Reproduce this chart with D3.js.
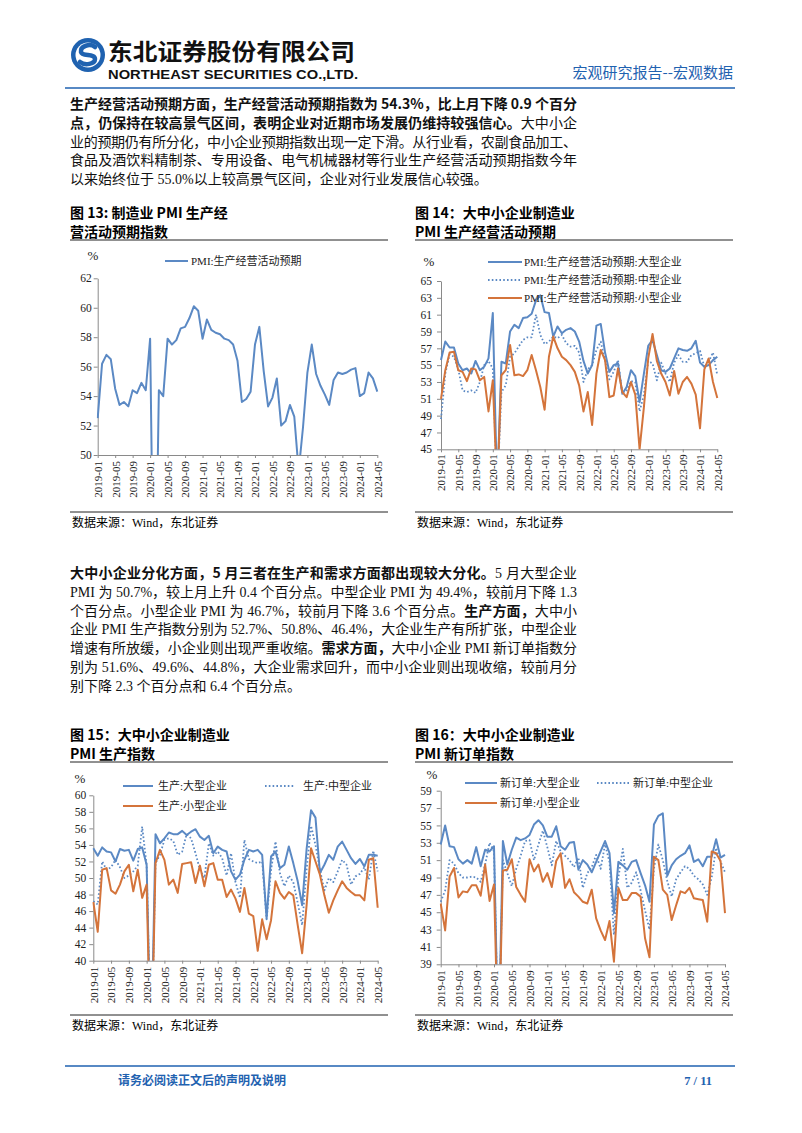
<!DOCTYPE html>
<html><head><meta charset="utf-8">
<script src="https://cdn.jsdelivr.net/npm/d3@7"></script>
<style>body{margin:0;background:#fff}svg{display:block}</style>
</head><body>
<svg id="page" width="802" height="1133"></svg>
<script>
// ---------- DATA ----------
const monthLabels = d3.timeMonth.range(new Date(2019,0,1), new Date(2024,5,1)).map(d3.timeFormat("%Y-%m"));
const tickLabels = ["2019-01","2019-05","2019-09","2020-01","2020-05","2020-09","2021-01","2021-05","2021-09","2022-01","2022-05","2022-09","2023-01","2023-05","2023-09","2024-01","2024-05"];

// Fig 13: PMI 生产经营活动预期
const expectTotal = [52.5,56.2,56.8,56.5,54.5,53.4,53.6,53.3,54.4,54.2,54.9,54.4,
  57.9,35.0,54.4,54.0,57.9,57.5,57.8,58.6,58.7,59.3,60.1,59.8,
  57.9,59.2,58.5,58.3,58.2,57.9,57.8,57.5,56.4,53.6,53.8,54.3,
  57.5,58.7,55.7,53.3,53.9,55.2,52.0,52.3,53.4,52.6,48.9,51.9,
  55.6,57.5,55.5,54.7,54.1,53.4,55.1,55.6,55.5,55.6,55.8,55.9,
  54.0,54.2,55.6,55.2,54.3];

// Fig 14: 生产经营活动预期 by size
const expectLarge = [55.6,57.8,57.1,57.1,55.2,54.4,54.6,54.0,55.5,54.4,54.8,55.8,
  61.2,40.0,55.4,55.2,59.0,59.8,59.4,60.6,60.7,61.1,62.7,63.3,
  61.3,61.2,58.4,59.6,58.8,59.2,59.4,59.0,57.8,55.5,54.0,55.0,
  59.7,59.9,56.5,54.2,55.0,55.2,51.6,52.4,54.4,53.7,50.6,54.0,
  57.3,58.0,56.2,54.4,54.2,54.6,55.8,57.0,56.8,56.7,57.0,57.9,
  55.3,54.8,55.0,55.6,56.0];
const expectMedium = [48.6,54.0,56.3,56.0,54.5,52.0,51.8,52.0,51.7,53.0,55.0,55.5,
  54.6,40.0,51.8,52.6,56.0,56.4,57.2,58.0,58.3,58.3,61.0,58.6,
  57.5,57.8,58.4,58.2,58.6,57.6,57.2,57.3,56.5,53.0,54.5,55.0,
  56.8,57.8,55.5,53.3,54.2,55.6,51.6,52.0,53.1,53.0,49.5,51.5,
  55.5,55.2,53.2,55.3,54.0,53.0,55.3,56.2,55.4,55.4,56.2,56.4,
  56.7,54.8,55.4,56.5,53.8];
const expectSmall = [51.0,54.4,56.5,56.6,54.4,54.2,53.1,54.6,54.5,53.2,53.6,49.5,
  53.2,40.0,53.8,54.4,57.4,53.8,53.9,53.7,54.4,56.2,54.4,52.4,
  49.7,56.0,58.4,57.0,56.0,55.6,55.0,54.2,52.6,49.5,51.8,47.9,
  54.0,56.8,55.6,51.2,51.4,54.6,51.8,51.2,53.0,51.5,45.0,50.0,
  55.8,58.7,55.5,54.0,53.0,51.4,54.3,51.6,53.0,53.6,52.8,51.5,
  47.5,54.5,55.8,53.0,51.1];

// Fig 15: 生产 by size
const prodLarge = [53.6,52.7,53.7,53.2,53.1,52.0,53.5,53.3,53.4,52.1,53.5,53.7,
  51.6,28.0,55.3,54.2,54.8,55.5,55.3,55.3,55.7,55.2,55.6,55.9,
  55.0,54.6,55.1,53.0,53.8,53.4,53.2,50.8,49.8,50.4,52.2,53.4,
  53.2,53.4,52.8,45.1,52.6,53.2,51.2,51.6,53.8,51.8,49.6,46.7,
  53.5,58.2,57.3,50.6,51.6,52.8,52.2,53.8,54.4,53.4,52.4,51.7,
  52.3,51.4,52.8,52.8,52.7];
const prodMedium = [47.2,46.8,52.0,51.0,51.3,52.2,51.3,50.0,50.3,50.8,51.5,56.2,
  51.6,28.0,51.8,52.8,54.6,54.8,54.5,52.8,53.2,55.3,54.8,53.0,
  51.0,50.0,54.2,52.7,53.2,52.4,50.3,53.0,49.5,47.6,54.6,52.3,
  52.0,51.8,52.0,45.0,51.0,54.4,50.6,49.0,50.3,49.5,47.0,44.3,
  51.0,56.3,54.0,51.0,48.5,50.0,49.5,50.8,52.2,51.6,49.2,50.2,
  50.5,51.3,49.8,53.3,50.8];
const prodSmall = [47.1,43.5,51.0,51.2,48.5,48.1,49.2,50.8,51.6,48.4,51.0,47.6,
  49.2,26.0,51.8,53.4,52.2,49.2,49.8,48.2,51.7,51.8,51.9,49.4,
  51.5,49.0,51.6,51.8,49.8,49.8,47.7,48.6,47.5,45.9,48.8,45.7,
  45.4,41.2,45.0,42.6,44.9,49.6,48.2,47.5,48.3,47.9,44.3,40.9,
  46.7,53.6,52.0,50.4,47.9,45.8,47.3,48.5,49.6,48.8,48.3,47.9,
  47.9,47.3,52.2,52.4,46.4];

// Fig 16: 新订单 by size
const orderLarge = [52.8,55.0,52.6,52.5,51.1,50.6,51.0,50.6,52.5,50.3,52.2,52.0,
  52.6,29.0,53.2,50.5,52.2,53.6,53.3,53.5,53.9,55.1,55.6,55.0,
  53.7,53.7,54.9,52.6,52.2,53.0,53.1,49.9,51.0,50.5,49.6,50.8,
  52.0,53.2,51.8,44.9,50.8,50.4,49.9,50.8,51.0,49.5,48.1,46.2,
  55.1,56.1,56.4,49.2,50.4,51.1,51.5,51.8,52.7,50.8,51.1,50.3,
  51.4,51.4,53.4,51.3,51.6];
const orderMedium = [46.2,47.5,51.0,50.6,49.5,49.0,49.0,49.1,49.0,48.5,50.5,53.0,
  52.0,29.0,51.0,49.5,48.0,50.0,51.5,53.2,53.3,51.0,52.8,54.4,
  52.5,50.4,53.2,52.0,51.5,51.0,50.2,51.3,47.8,49.5,50.2,51.6,
  50.0,52.8,50.8,42.4,49.0,52.3,47.8,48.4,49.6,47.5,45.2,43.0,
  50.0,52.8,51.0,48.6,46.8,48.8,49.6,50.3,50.0,49.2,48.8,48.2,
  47.0,49.0,52.4,50.8,49.6];
const orderSmall = [46.0,42.9,49.1,50.1,46.7,47.4,47.3,48.1,48.1,46.9,50.5,46.3,
  48.2,28.0,49.8,49.9,51.1,47.9,47.0,46.2,51.1,49.7,50.5,48.5,
  49.5,47.9,50.9,51.8,47.8,48.8,47.3,46.8,46.2,46.0,47.6,44.3,
  42.9,41.8,44.0,39.3,47.8,46.4,46.4,47.2,47.2,46.8,42.0,39.8,
  51.4,51.0,47.6,47.0,44.1,45.8,47.4,47.2,47.8,46.6,46.5,46.4,
  43.9,52.0,51.8,50.9,44.9];

// ---------- STYLE ----------
const svg = d3.select("#page");
const SERIF = "'Liberation Serif','Noto Sans CJK SC',serif";
const CJK = "'Noto Sans CJK SC','Liberation Sans',sans-serif";
const BLUE = "#5b89c4", ORANGE = "#d4743b", HEADBLUE = "#1f62b0";
const defs = svg.append("defs");

// ---------- HEADER ----------
const logo = svg.append("g").attr("transform","translate(88,55)");
logo.append("circle").attr("r",17).attr("fill",HEADBLUE);
logo.append("circle").attr("r",12.5).attr("fill","#fff");
logo.append("path").attr("d","M7,-8 C2,-12 -8,-9 -7,-3 C-6,2 7,-2 7,4 C7,9 -3,11 -8,7")
  .attr("fill","none").attr("stroke",HEADBLUE).attr("stroke-width",4.5).attr("stroke-linecap","round");
svg.append("text").attr("x",108).attr("y",60).attr("font-family",CJK).attr("font-weight","bold")
  .attr("font-size",23).attr("textLength",247).attr("lengthAdjust","spacingAndGlyphs").attr("fill","#111").text("东北证券股份有限公司");
svg.append("text").attr("x",108).attr("y",78.5).attr("font-family","'Liberation Sans',sans-serif").attr("font-weight","bold")
  .attr("font-size",12).attr("textLength",250).attr("lengthAdjust","spacingAndGlyphs").attr("fill","#111").text("NORTHEAST SECURITIES CO.,LTD.");
svg.append("text").attr("x",733).attr("y",78).attr("text-anchor","end").attr("font-family",CJK)
  .attr("font-size",15).attr("fill",HEADBLUE).text("宏观研究报告--宏观数据");
svg.append("line").attr("x1",65).attr("x2",735).attr("y1",88).attr("y2",88).attr("stroke",HEADBLUE).attr("stroke-width",1.5);

// ---------- PARAGRAPHS ----------
const para1 = [
  {j:true, parts:[["生产经营活动预期方面，生产经营活动预期指数为 54.3%，比上月下降 0.9 个百分",1]]},
  {j:true, parts:[["点，仍保持在较高景气区间，表明企业对近期市场发展仍维持较强信心。",1],["大中小企",0]]},
  {j:true, parts:[["业的预期仍有所分化，中小企业预期指数出现一定下滑。从行业看，农副食品加工、",0]]},
  {j:true, parts:[["食品及酒饮料精制茶、专用设备、电气机械器材等行业生产经营活动预期指数今年",0]]},
  {j:false, parts:[["以来始终位于 55.0%以上较高景气区间，企业对行业发展信心较强。",0]]}
];
const para2 = [
  {j:true, parts:[["大中小企业分化方面，5 月三者在生产和需求方面都出现较大分化。",1],["5 月大型企业",0]]},
  {j:true, parts:[["PMI 为 50.7%，较上月上升 0.4 个百分点。中型企业 PMI 为 49.4%，较前月下降 1.3",0]]},
  {j:true, parts:[["个百分点。小型企业 PMI 为 46.7%，较前月下降 3.6 个百分点。",0],["生产方面，",1],["大中小",0]]},
  {j:true, parts:[["企业 PMI 生产指数分别为 52.7%、50.8%、46.4%，大企业生产有所扩张，中型企业",0]]},
  {j:true, parts:[["增速有所放缓，小企业则出现严重收缩。",0],["需求方面，",1],["大中小企业 PMI 新订单指数分",0]]},
  {j:true, parts:[["别为 51.6%、49.6%、44.8%，大企业需求回升，而中小企业则出现收缩，较前月分",0]]},
  {j:false, parts:[["别下降 2.3 个百分点和 6.4 个百分点。",0]]}
];
function paragraph(lines, x, y0, dy, width){
  lines.forEach((ln,k)=>{
    const t = svg.append("text").attr("x",x).attr("y",y0+k*dy).attr("font-family",SERIF)
      .attr("font-size",14).attr("fill","#111");
    if (ln.j) t.attr("textLength",width).attr("lengthAdjust","spacing");
    ln.parts.forEach(p=>{ const s=t.append("tspan").text(p[0]); if(p[1]) s.attr("font-weight","bold").attr("font-family",CJK); });
  });
}
paragraph(para1, 70, 109, 18.75, 507);
paragraph(para2, 70, 578, 18.75, 507);

// ---------- CHART FRAMES ----------
function frame(x0, x1, yTitle, title1, title2, ySrcRule){
  svg.append("text").attr("x",x0).attr("y",yTitle).attr("font-family",CJK).attr("font-weight","bold").attr("font-size",14).text(title1);
  svg.append("text").attr("x",x0).attr("y",yTitle+19).attr("font-family",CJK).attr("font-weight","bold").attr("font-size",14).text(title2);
  svg.append("line").attr("x1",x0).attr("x2",x1).attr("y1",yTitle+22).attr("y2",yTitle+22).attr("stroke","#222").attr("stroke-width",1);
  svg.append("line").attr("x1",x0).attr("x2",x1).attr("y1",ySrcRule).attr("y2",ySrcRule).attr("stroke","#222").attr("stroke-width",1);
  svg.append("text").attr("x",x0+2).attr("y",ySrcRule+15).attr("font-family",SERIF).attr("font-size",12).text("数据来源：Wind，东北证券");
}
frame(70, 388, 218, "图 13: 制造业 PMI 生产经", "营活动预期指数", 512);
frame(415, 733, 218, "图 14：大中小企业制造业", "PMI 生产经营活动预期", 512);
frame(70, 388, 740, "图 15：大中小企业制造业", "PMI 生产指数", 1015);
frame(415, 733, 740, "图 16：大中小企业制造业", "PMI 新订单指数", 1015);

// ---------- CHART ----------
function chart(o){
  const g = svg.append("g");
  const x = d3.scalePoint().domain(monthLabels).range([o.x0, o.x1]);
  const y = d3.scaleLinear().domain([o.min, o.max]).range([o.yb, o.yt]);
  defs.append("clipPath").attr("id","clip"+o.id).append("rect")
    .attr("x",o.x0-1).attr("y",o.yt-20).attr("width",o.x1-o.x0+6).attr("height",o.yb-o.yt+20);
  const ya = g.append("g").attr("transform",`translate(${o.x0},0)`)
    .call(d3.axisLeft(y).tickValues(d3.range(o.min, o.max+0.01, 2)).tickSize(4).tickPadding(o.ypad).tickSizeOuter(0));
  const xa = g.append("g").attr("transform",`translate(0,${o.yb})`)
    .call(d3.axisBottom(x).tickValues(tickLabels).tickSize(3).tickSizeOuter(0));
  [ya,xa].forEach(a=>{
    a.attr("font-family",SERIF).attr("font-size",11.5);
    a.select(".domain").attr("stroke","#8a8a8a");
    a.selectAll(".tick line").attr("stroke","#8a8a8a");
    a.selectAll("text").attr("fill","#222");
  });
  xa.selectAll("text").attr("font-size",11).attr("transform","rotate(-90)").attr("text-anchor","end")
    .attr("x",-o.xgap).attr("y",0).attr("dy","0.35em");
  g.append("text").attr("x",o.pct[0]).attr("y",o.pct[1]).attr("text-anchor","middle")
    .attr("font-family",SERIF).attr("font-size",13).attr("fill","#222").text("%");
  const line = d3.line().x((d,i)=>x(monthLabels[i])).y(d=>y(d));
  const lg = g.append("g").attr("clip-path",`url(#clip${o.id})`);
  o.series.forEach(s=>{
    lg.append("path").datum(s.values).attr("d",line).attr("fill","none")
      .attr("stroke",s.color).attr("stroke-width",s.dash?1.8:2).attr("stroke-dasharray",s.dash?"1.6,2.2":null)
      .attr("stroke-linejoin","round");
  });
  o.series.forEach(s=>{
    const [lx, ly, len, tx] = s.legend;
    g.append("line").attr("x1",lx).attr("x2",lx+len).attr("y1",ly).attr("y2",ly)
      .attr("stroke",s.color).attr("stroke-width",s.dash?1.8:2).attr("stroke-dasharray",s.dash?"1.6,2.2":null);
    g.append("text").attr("x",tx).attr("y",ly+4).attr("font-family",SERIF).attr("font-size",11)
      .attr("fill","#222").text(s.name);
  });
}

chart({id:13, x0:97.7, x1:377.3, yt:278.3, yb:455, min:50, max:62, ypad:2, xgap:6, pct:[93,260],
  series:[{name:"PMI:生产经营活动预期", values:expectTotal, color:BLUE, legend:[165,261,23,191]}]});

chart({id:14, x0:441, x1:717.3, yt:281, yb:449.3, min:45, max:65, ypad:5, xgap:5, pct:[429,266],
  series:[
    {name:"PMI:生产经营活动预期:大型企业", values:expectLarge, color:BLUE, legend:[488,262,34,524]},
    {name:"PMI:生产经营活动预期:中型企业", values:expectMedium, color:BLUE, dash:true, legend:[488,280,34,524]},
    {name:"PMI:生产经营活动预期:小型企业", values:expectSmall, color:ORANGE, legend:[488,298,34,524]}
  ]});

chart({id:15, x0:93.3, x1:377.7, yt:795.3, yb:960.7, min:40, max:60, ypad:3, xgap:6, pct:[80,783],
  series:[
    {name:"生产:大型企业", values:prodLarge, color:BLUE, legend:[123,786,30,158]},
    {name:"生产:中型企业", values:prodMedium, color:BLUE, dash:true, legend:[265,786,30,303]},
    {name:"生产:小型企业", values:prodSmall, color:ORANGE, legend:[123,806,30,158]}
  ]});

chart({id:16, x0:440.7, x1:725, yt:790.7, yb:964.3, min:39, max:59, ypad:5, xgap:6, pct:[432,779],
  series:[
    {name:"新订单:大型企业", values:orderLarge, color:BLUE, legend:[465,783,32,500]},
    {name:"新订单:中型企业", values:orderMedium, color:BLUE, dash:true, legend:[597,783,33,633]},
    {name:"新订单:小型企业", values:orderSmall, color:ORANGE, legend:[465,803,32,500]}
  ]});

// ---------- FOOTER ----------
svg.append("line").attr("x1",65).attr("x2",735).attr("y1",1066).attr("y2",1066).attr("stroke",HEADBLUE).attr("stroke-width",1.5);
svg.append("text").attr("x",118).attr("y",1085).attr("font-family",CJK).attr("font-weight","bold").attr("font-size",12)
  .attr("fill",HEADBLUE).text("请务必阅读正文后的声明及说明");
svg.append("text").attr("x",712).attr("y",1085).attr("text-anchor","end").attr("font-family",SERIF).attr("font-weight","bold")
  .attr("font-size",12.5).attr("fill",HEADBLUE).text("7 / 11");
</script>
</body></html>
